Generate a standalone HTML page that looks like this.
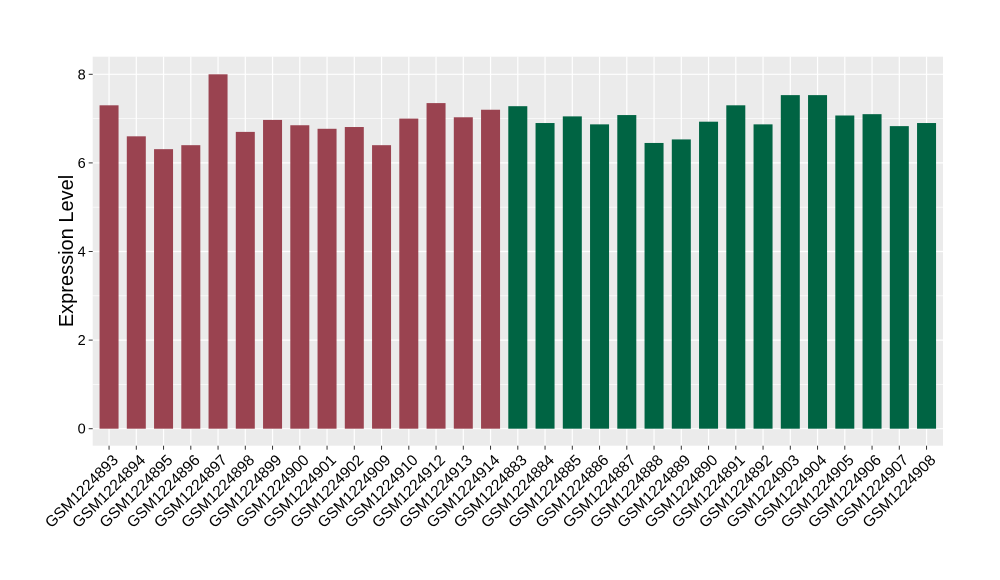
<!DOCTYPE html>
<html><head><style>body{margin:0;background:#fff}svg{display:block}</style></head><body>
<svg width="1000" height="580" xmlns="http://www.w3.org/2000/svg" font-family="Liberation Sans, Arial, sans-serif">
<rect x="92.7" y="56.7" width="850.3" height="389" fill="#ebebeb"/>
<g id="grid"></g>
<g id="bars"></g>
<g id="labels"></g>
<text transform="translate(73,251) rotate(-90)" font-size="20" text-anchor="middle">Expression Level</text>
<script>
const ns="http://www.w3.org/2000/svg";
const names=["GSM1224893","GSM1224894","GSM1224895","GSM1224896","GSM1224897","GSM1224898","GSM1224899","GSM1224900","GSM1224901","GSM1224902","GSM1224909","GSM1224910","GSM1224912","GSM1224913","GSM1224914","GSM1224883","GSM1224884","GSM1224885","GSM1224886","GSM1224887","GSM1224888","GSM1224889","GSM1224890","GSM1224891","GSM1224892","GSM1224903","GSM1224904","GSM1224905","GSM1224906","GSM1224907","GSM1224908"];
const vals=[7.3,6.6,6.31,6.4,8.0,6.7,6.97,6.85,6.77,6.81,6.4,7.0,7.35,7.03,7.2,7.28,6.9,7.05,6.87,7.08,6.45,6.53,6.93,7.3,6.87,7.53,7.53,7.07,7.1,6.83,6.9];
const y0=428.7,k=44.3,L=92.7,R=943,step=27.25;
function el(t,a,p){const e=document.createElementNS(ns,t);for(const x in a)e.setAttribute(x,a[x]);p.appendChild(e);return e;}
const g=document.getElementById("grid"),b=document.getElementById("bars"),lb=document.getElementById("labels"),svg=document.querySelector("svg");
for(let v=1;v<=7;v+=2){const y=y0-v*k;el("line",{x1:L,x2:R,y1:y,y2:y,stroke:"#fff","stroke-width":0.6},g);}
for(let v=0;v<=8;v+=2){const y=y0-v*k;el("line",{x1:L,x2:R,y1:y,y2:y,stroke:"#fff","stroke-width":1.2},g);
el("line",{x1:L-4,x2:L,y1:y,y2:y,stroke:"#333","stroke-width":1},svg);
const t=el("text",{x:L-7,y:y+5,"font-size":14.5,"text-anchor":"end",fill:"#000"},svg);t.textContent=v;}
names.forEach((n,i)=>{const cx=L+(0.6+i)*step;
el("line",{x1:cx,x2:cx,y1:56.7,y2:445.7,stroke:"#fff","stroke-width":1.2},g);
const h=vals[i]*k;el("rect",{x:cx-9.5,y:y0-h,width:19,height:h,fill:i<15?"#9a4350":"#006443"},b);
el("line",{x1:cx,x2:cx,y1:445.7,y2:449.7,stroke:"#333","stroke-width":1},svg);
const t=el("text",{transform:`translate(${cx+10},${461}) rotate(-45)`,"font-size":15.5,"text-anchor":"end",fill:"#000"},lb);t.textContent=n;});
</script>
</svg>
</body></html>
